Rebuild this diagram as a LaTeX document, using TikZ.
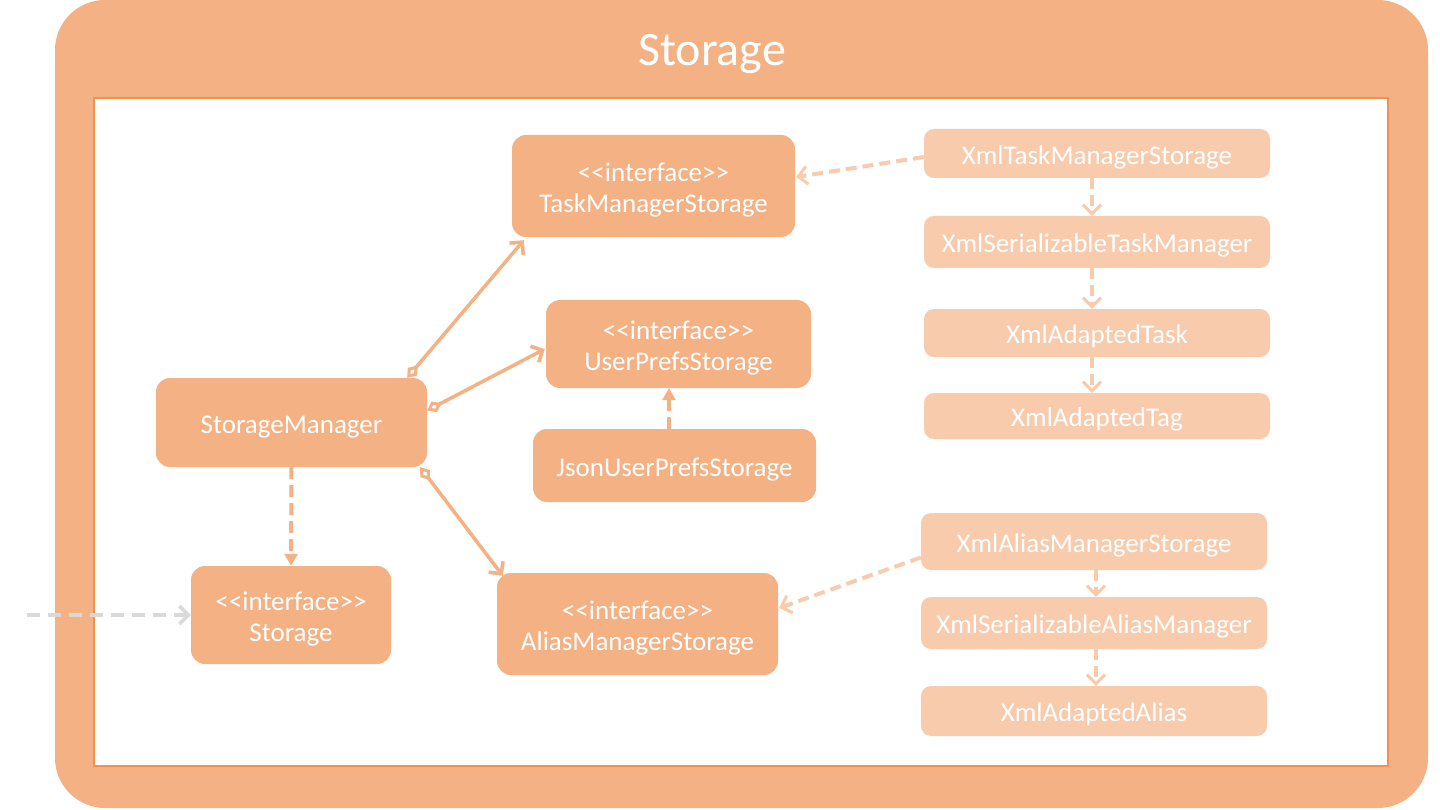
\documentclass[tikz,border=0pt]{standalone}
\usepackage{fontspec}
\setmainfont{Carlito}
\usetikzlibrary{arrows.meta,calc}
\definecolor{mainor}{HTML}{F4B183}
\definecolor{lightor}{HTML}{F8CBAD}
\definecolor{edgeor}{HTML}{F1914D}
\definecolor{grayarr}{HTML}{D9D9D9}
\newcommand{\lowtxt}[1]{\raisebox{0pt}[\dimexpr\height+9pt\relax][\depth]{\begin{tabular}{@{}c@{}}#1\end{tabular}}}
\tikzset{
  mainbox/.style={rectangle, rounded corners=14pt, fill=mainor, text=white, inner sep=0pt,
    font=\fontsize{27}{31}\selectfont},
  lightbox/.style={rectangle, rounded corners=10pt, fill=lightor, text=white, inner sep=0pt,
    font=\fontsize{27}{31}\selectfont},
  assoc/.style={draw=mainor, line width=3.5pt, {Diamond[open,length=16pt,width=12pt,line width=3pt]}-{Straight Barb[length=9pt,width=18pt,line width=3.5pt]}},
  dep/.style={draw=mainor, line width=4pt, dash pattern=on 12pt off 6pt, -{Triangle[length=12pt,width=13pt]}},
  lightdep/.style={draw=lightor, line width=4pt, dash pattern=on 11pt off 6pt, -{Straight Barb[length=9pt,width=18pt,line width=3pt]}},
  graydep/.style={draw=grayarr, line width=4pt, dash pattern=on 13pt off 8pt, -{Straight Barb[length=9pt,width=18pt,line width=3.5pt]}},
}
\begin{document}
\begin{tikzpicture}[x=1pt,y=-1pt]
\useasboundingbox (0,0) rectangle (1440,810);
% frame
\fill[mainor, rounded corners=50pt] (55,0) rectangle (1428,808);
\node[text=white, font=\fontsize{48}{52}\selectfont] (title) at (712,54) {Storage};
\draw[fill=white, draw=edgeor, line width=2.5pt] (94,98) rectangle (1388,766);
% nodes
\node[mainbox, minimum width=283pt, minimum height=102pt] (tms) at (653.5,186) {\lowtxt{<{}<interface>{}>\\TaskManagerStorage}};
\node[mainbox, minimum width=265pt, minimum height=88pt] (ups) at (678.5,344) {\lowtxt{<{}<interface>{}>\\UserPrefsStorage}};
\node[mainbox, minimum width=283pt, minimum height=73pt] (jups) at (674.5,465.5) {\lowtxt{JsonUserPrefsStorage}};
\node[mainbox, minimum width=281pt, minimum height=102pt] (ams) at (637.5,624) {\lowtxt{<{}<interface>{}>\\AliasManagerStorage}};
\node[mainbox, minimum width=271pt, minimum height=89pt] (sm) at (291.5,422.5) {\lowtxt{StorageManager}};
\node[mainbox, minimum width=200pt, minimum height=98pt] (st) at (291,615) {\lowtxt{<{}<interface>{}>\\Storage}};
\node[lightbox, minimum width=346pt, minimum height=49pt] (xtms) at (1097,153.5) {\lowtxt{XmlTaskManagerStorage}};
\node[lightbox, minimum width=346pt, minimum height=52pt] (xstm) at (1097,242) {\lowtxt{XmlSerializableTaskManager}};
\node[lightbox, minimum width=346pt, minimum height=48pt] (xat) at (1097,333) {\lowtxt{XmlAdaptedTask}};
\node[lightbox, minimum width=346pt, minimum height=46pt] (xatag) at (1097,416) {\lowtxt{XmlAdaptedTag}};
\node[lightbox, minimum width=346pt, minimum height=57pt] (xams) at (1094,541.5) {\lowtxt{XmlAliasManagerStorage}};
\node[lightbox, minimum width=346pt, minimum height=52pt] (xsam) at (1094,623) {\lowtxt{XmlSerializableAliasManager}};
\node[lightbox, minimum width=346pt, minimum height=50pt] (xaa) at (1094,711) {\lowtxt{XmlAdaptedAlias}};
% connectors
\draw[assoc] ($(sm.north east)+(-20,0)$) -- ($(tms.south west)+(12,3)$);
\draw[assoc] ($(sm.east)+(0,-12)$) -- ($(ups.west)+(-1,5)$);
\draw[assoc] ($(sm.south east)+(-7,0)$) -- ($(ams.north west)+(6,3)$);
\draw[dep] (sm.south) -- (st.north);
\coordinate (ext) at (27,615);
\draw[graydep] (ext) -- (st.west);
\draw[dep] ($(jups.north)+(-5.5,0)$) -- ($(ups.south)+(-9.5,0)$);
\draw[lightdep] ($(xtms.west)+(0,3.5)$) -- ($(tms.east)+(1,-9)$);
\draw[lightdep] ($(xams.west)+(0,16)$) -- ($(ams.east)+(1,-16)$);
\draw[lightdep] ($(xtms.south)+(-5,0)$) -- ($(xstm.north)+(-5,0)$);
\draw[lightdep] ($(xstm.south)+(-5,0)$) -- ($(xat.north)+(-5,0)$);
\draw[lightdep] ($(xat.south)+(-5,0)$) -- ($(xatag.north)+(-5,0)$);
\draw[lightdep] ($(xams.south)+(2,0)$) -- ($(xsam.north)+(2,0)$);
\draw[lightdep] ($(xsam.south)+(2,0)$) -- ($(xaa.north)+(2,0)$);
\end{tikzpicture}
\end{document}
